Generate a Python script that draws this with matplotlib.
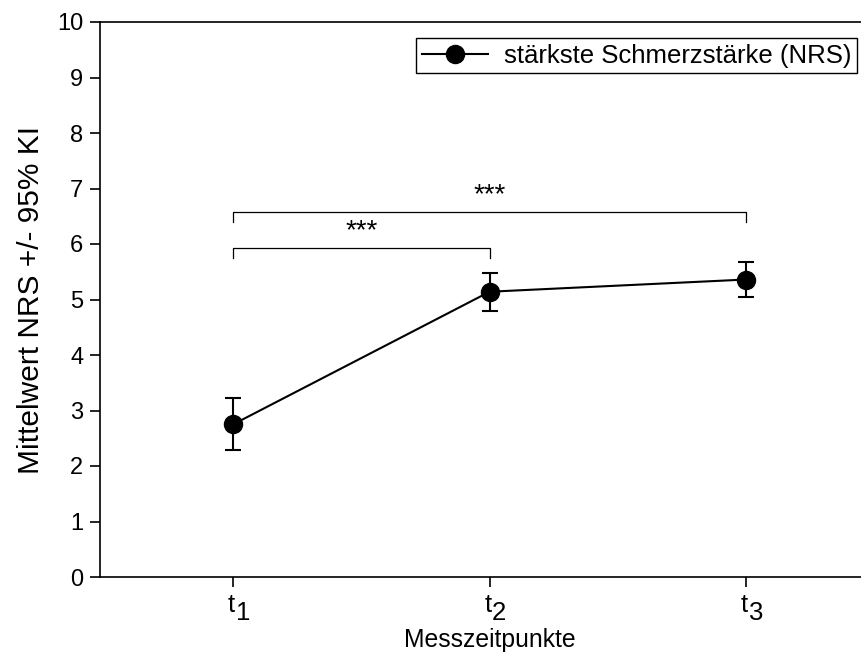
import numpy as np
import matplotlib
matplotlib.use('Agg')
import matplotlib.pyplot as plt
from matplotlib.lines import Line2D

plt.rcParams['font.family'] = ['Liberation Sans', 'DejaVu Sans']

# data
timepoints = [1, 2, 3]
tick_subs = ['1', '2', '3']
means = [2.75, 5.14, 5.36]
ci_low = [2.28, 4.80, 5.04]
ci_high = [3.22, 5.47, 5.68]
series_label = 'stärkste Schmerzstärke (NRS)'

# significance brackets: (from, to, height, label)
brackets = [(1, 2, 5.93, '***'), (1, 3, 6.58, '***')]

fig = plt.figure(figsize=(8.62, 6.54), dpi=100)
ax = fig.add_axes([100 / 862, 1 - 577 / 654, 762 / 862, 555 / 654])

yerr = [np.array(means) - np.array(ci_low), np.array(ci_high) - np.array(means)]
ax.errorbar(timepoints, means, yerr=yerr, color='black', marker='o', markersize=13,
            linewidth=1.5, elinewidth=1.5, capsize=5.5, capthick=1.5)

for x0, x1, h, txt in brackets:
    ax.plot([x0, x0, x1, x1], [h - 0.18, h, h, h - 0.18], color='black', linewidth=0.9)
    ax.text((x0 + x1) / 2, h + 0.3, txt, ha='center', va='center', fontsize=20)

ax.set_xlim(0.481, 3.452)
ax.set_ylim(0, 10)
ax.set_yticks(range(0, 11))
ax.set_xticks(timepoints)
ax.set_xticklabels([])
ax.tick_params(axis='y', labelsize=17, direction='out', length=7, width=1.2, pad=5)
ax.tick_params(axis='x', direction='out', length=7, width=1.2)
ax.spines['right'].set_visible(False)
for s in ['left', 'bottom', 'top']:
    ax.spines[s].set_linewidth(1.2)

# x tick labels: t with a large, lowered index
for x, sub in zip(timepoints, tick_subs):
    ax.annotate('t', xy=(x, 0), xycoords=('data', 'axes fraction'), xytext=(1.5, -25),
                textcoords='offset points', ha='right', va='baseline', fontsize=18.5)
    ax.annotate(sub, xy=(x, 0), xycoords=('data', 'axes fraction'), xytext=(1.8, -31),
                textcoords='offset points', ha='left', va='baseline', fontsize=18.5)

ax.annotate('Messzeitpunkte', xy=(2, 0), xycoords=('data', 'axes fraction'), xytext=(0, -45.5),
            textcoords='offset points', ha='center', va='center', fontsize=17.8)
ax.set_ylabel('Mittelwert NRS +/- 95% KI', fontsize=21.5, labelpad=9)

handle = Line2D([], [], color='black', marker='o', markersize=13, linewidth=1.5)
leg = ax.legend([handle], [series_label], loc='upper right',
                bbox_to_anchor=((857 - 100) / 762, 1 - 16 / 555), borderaxespad=0,
                fontsize=18.5, fancybox=False, framealpha=1, edgecolor='black',
                handlelength=2.6, borderpad=0.22, handletextpad=0.6)
leg.get_frame().set_linewidth(1.0)

fig.savefig('out.png', dpi=100)
